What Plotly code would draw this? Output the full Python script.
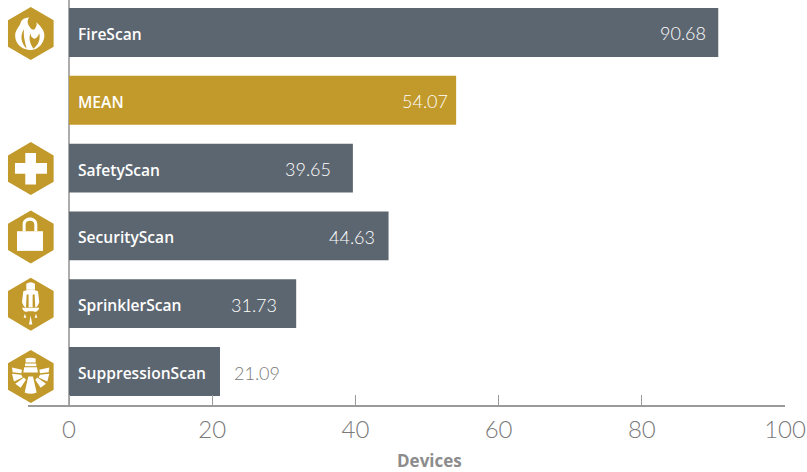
import plotly.graph_objects as go

categories = ["FireScan", "MEAN", "SafetyScan", "SecurityScan", "SprinklerScan", "SuppressionScan"]
devices = [90.68, 54.07, 39.65, 44.63, 31.73, 21.09]
x_ticks = [0, 20, 40, 60, 80, 100]
x_title = "Devices"

GREY = "#5c6670"
GOLD = "#c2992b"
AXIS = "#9a9a9a"
TEXT = "#8c8c8c"
NUM_TEXT = "#7a7a7a"
NAME_FONT = "Open Sans"
NUM_FONT = "Lato"

# pixel shift of each value label relative to its bar end (layout, not data)
label_shift = [-10, -6, -20, -12, -17, 12]
label_anchor = ["right", "right", "right", "right", "right", "left"]
label_color = ["white", "white", "white", "white", "white", NUM_TEXT]
bar_color = [GREY, GOLD, GREY, GREY, GREY, GREY]

fig = go.Figure(go.Bar(
    x=devices, y=categories, orientation="h", width=0.72,
    marker=dict(color=bar_color, line=dict(width=0)), hoverinfo="x+y",
))

annotations = []
for c, v, s, a, col in zip(categories, devices, label_shift, label_anchor, label_color):
    annotations.append(dict(x=0, y=c, text=c, showarrow=False, xanchor="left", xshift=7, yshift=-1.5,
                            font=dict(family=NAME_FONT, size=15.6, color="white", weight=600)))
    annotations.append(dict(x=v, y=c, text=f"{v:.2f}", showarrow=False, xanchor=a, xshift=s, yshift=-1,
                            font=dict(family=NUM_FONT, size=18, color=col, weight=300)))
annotations.append(dict(xref="paper", yref="paper", x=(429 - 28) / 757, y=(405 - 461) / 405, text=x_title,
                        showarrow=False, xanchor="center", yanchor="middle",
                        font=dict(family=NAME_FONT, size=17, color=TEXT, weight=700)))


# ---- icons: outlines are written in 3x-zoom pixel coordinates around a centre
def P(d, cx, cy):
    res, is_x = [], True
    for t in d.replace(",", " ").split():
        if t.isalpha():
            res.append(t)
            is_x = True
        else:
            v = float(t)
            res.append(f"{(v - cx) / 3:.2f}" if is_x else f"{(cy - v) / 3:.2f}")
            is_x = not is_x
    return " ".join(res)


HEX = "M 92.5,21 L 161,61 L 161,140 L 92.5,180 L 24,140 L 24,61 Z"
FIRE = [
    ("w", "M 88,150 C 60,148 42,125 46,100 C 50,85 58,80 62,68 C 66,58 72,55 88,52 C 78,65 85,75 92,85 C 98,92 105,90 108,80 C 112,72 110,68 108,66 C 125,80 135,95 133,110 C 131,130 115,148 95,150 Z"),
    ("g", "M 72,88 C 60,105 62,130 80,146 C 75,125 70,110 72,88 Z"),
    ("g", "M 92,100 C 85,115 90,130 100,146 C 115,135 122,120 118,100 C 112,115 105,118 100,115 C 95,112 92,108 92,100 Z"),
]
CROSS = [("w", "M 76,54 L 108,54 L 108,84 L 141,84 L 141,116 L 108,116 L 108,148 L 76,148 L 76,116 L 45,116 L 45,84 L 76,84 Z")]
LOCK = [
    ("w", "M 51,93 L 129,93 L 129,152 L 51,152 Z"),
    ("w", "M 68,93 L 68,72 C 68,45 112,45 112,72 L 112,93 L 103,93 L 103,72 C 103,58 77,58 77,72 L 77,93 Z"),
]
SPRINKLER = [
    ("w", "M 79,268 L 79,250 Q 92,240 105,250 L 105,268 Z"),
    ("w", "M 70,272 Q 92,264 114,272 L 118,305 Q 114,318 106,322 L 104,282 L 98,282 L 98,320 L 86,320 L 86,282 L 80,282 L 78,322 Q 70,318 66,305 Z"),
    ("w", "M 66,322 L 118,322 Q 112,338 100,332 L 84,332 Q 72,338 66,322 Z"),
    ("w", "M 75,340 L 79,352 L 71,352 Z"),
    ("w", "M 92,345 L 97,372 L 87,372 Z"),
    ("w", "M 108,340 L 112,352 L 104,352 Z"),
]
SUPPRESSION = [
    ("w", "M 77,476 Q 92,472 107,476 L 107,488 L 77,488 Z"),
    ("w", "M 75,491 L 109,491 L 109,499 L 75,499 Z"),
    ("w", "M 73,502 L 111,502 L 114,518 L 70,518 Z"),
    ("w", "M 66,510 L 36,503 L 38,517 L 64,520 Z"),
    ("w", "M 118,510 L 148,503 L 146,517 L 120,520 Z"),
    ("w", "M 64,525 L 36,522 L 42,545 L 68,533 Z"),
    ("w", "M 120,525 L 148,522 L 142,545 L 116,533 Z"),
    ("w", "M 72,533 L 46,552 L 62,564 L 78,540 Z"),
    ("w", "M 112,533 L 138,552 L 122,564 L 106,540 Z"),
    ("w", "M 85,530 L 99,530 L 110,578 Q 92,586 74,578 Z"),
]
# category, outlines, centre of outlines (zoom px), vertical offset of the hexagon from bar centre (px)
icons = [
    ("FireScan", FIRE, 92.5, 100.5, -1),
    ("SafetyScan", CROSS, 92.5, 100.5, -0.5),
    ("SecurityScan", LOCK, 92.5, 110, -1),
    ("SprinklerScan", SPRINKLER, 92.5, 311, -0.5),
    ("SuppressionScan", SUPPRESSION, 92.5, 530, -5),
]
ICON_X = (30.8 - 28) / 757  # paper fraction: left of the plot area, must not be clipped
shapes = []


def add(path, col, cat):
    shapes.append(dict(type="path", path=path, xref="paper", yref="y", xsizemode="pixel", ysizemode="pixel",
                       xanchor=ICON_X, yanchor=cat, fillcolor=col, line=dict(width=0), layer="above"))


for cat, parts, cx, cy, dy in icons:
    add(P(HEX, 92.5, 100.5 + dy * 3), GOLD, cat)
    for kind, d in parts:
        add(P(d, cx, cy + dy * 3), "white" if kind == "w" else GOLD, cat)

fig.update_layout(
    width=807, height=472, margin=dict(l=28, r=22, t=0, b=67, autoexpand=False),
    plot_bgcolor="white", paper_bgcolor="white", showlegend=False, bargap=0.28,
    annotations=annotations, shapes=shapes,
    xaxis=dict(
        range=[-5.726, 100], tickvals=x_ticks, ticks="inside", ticklen=10, tickwidth=1, tickcolor=AXIS,
        showline=True, linecolor=AXIS, linewidth=2, showgrid=False,
        zeroline=True, zerolinecolor="#adadad", zerolinewidth=2, ticklabelstandoff=2,
        tickfont=dict(family=NUM_FONT, size=24, color=NUM_TEXT, weight=300),
    ),
    yaxis=dict(
        type="category", categoryorder="array", categoryarray=categories, range=[5.494, -0.479],
        showticklabels=False, ticks="", showline=False, showgrid=False, zeroline=False,
    ),
)
fig.write_html("out.html", config=dict(displayModeBar=False),
               post_script="document.body.style.margin='0';document.body.style.overflow='hidden';")
